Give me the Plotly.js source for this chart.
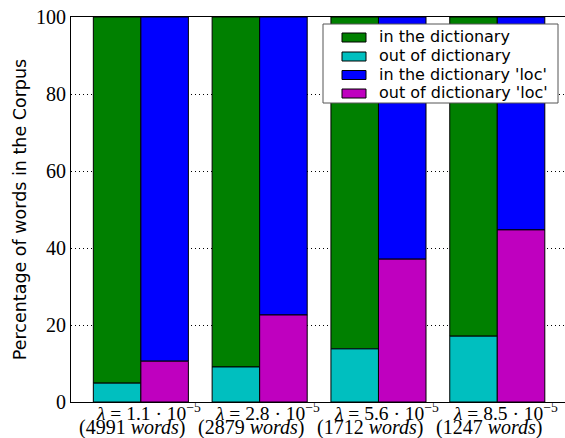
<!DOCTYPE html>
<html>
<head>
<meta charset="utf-8">
<script src="https://cdn.plot.ly/plotly-3.0.1.min.js"></script>
<style>html,body{margin:0;padding:0;background:#fff;}#chart{width:565px;height:438px;}</style>
</head>
<body>
<div id="chart"></div>
<script>
var groups = [0, 1, 2, 3];
var lambdaLabels = [
  "<i>λ</i> = 1.1 · 10<sup>−5</sup>",
  "<i>λ</i> = 2.8 · 10<sup>−5</sup>",
  "<i>λ</i> = 5.6 · 10<sup>−5</sup>",
  "<i>λ</i> = 8.5 · 10<sup>−5</sup>"
];
var wordCounts = ["4991", "2879", "1712", "1247"];
var seriesNames = ["in the dictionary", "out of dictionary", "in the dictionary 'loc'", "out of dictionary 'loc'"];
var seriesColors = ['#008000', '#00bfbf', '#0000ff', '#bf00bf'];
var outDict = [4.9, 9.1, 13.8, 17.1];
var inDict = [95.1, 90.9, 86.2, 82.9];
var outDictLoc = [10.6, 22.6, 37.1, 44.7];
var inDictLoc = [89.4, 77.4, 62.9, 55.3];

var edge = {color: '#000', width: 1};
var traces = [
  {type: 'bar', name: seriesNames[0], x: groups, y: inDict, base: outDict,
   offset: -0.4, width: 0.4, marker: {color: seriesColors[0], line: edge}},
  {type: 'bar', name: seriesNames[1], x: groups, y: outDict, base: 0,
   offset: -0.4, width: 0.4, marker: {color: seriesColors[1], line: edge}},
  {type: 'bar', name: seriesNames[2], x: groups, y: inDictLoc, base: outDictLoc,
   offset: 0, width: 0.4, marker: {color: seriesColors[2], line: edge}},
  {type: 'bar', name: seriesNames[3], x: groups, y: outDictLoc, base: 0,
   offset: 0, width: 0.4, marker: {color: seriesColors[3], line: edge}}
];

var serif = "'Liberation Serif', 'DejaVu Serif', serif";
var sans = "'DejaVu Sans', 'Liberation Sans', sans-serif";

// plot area geometry in px (for converting legend placement to paper coords)
var L = 71, W = 494, T = 17, H = 385;
function px(xp) { return (xp - L) / W; }
function py(yp) { return (T + H - yp) / H; }

var annotations = [];
groups.forEach(function (g, i) {
  annotations.push({xref: 'x', yref: 'paper', x: g, y: 0, xanchor: 'center', yanchor: 'middle',
    xshift: 8, yshift: -9.5, showarrow: false, text: lambdaLabels[i],
    font: {family: serif, size: 19.5, color: '#000'}});
  annotations.push({xref: 'x', yref: 'paper', x: g, y: 0, xanchor: 'center', yanchor: 'middle',
    xshift: -8, yshift: -25, showarrow: false, text: '(' + wordCounts[i] + ' <i>words</i>)',
    font: {family: serif, size: 20, color: '#000'}});
});

var shapes = [{type: 'rect', xref: 'paper', yref: 'paper', x0: px(323), x1: px(558), y0: py(103), y1: py(24),
  fillcolor: '#fff', line: {color: '#555', width: 1}, layer: 'above'}];
var rowY = [37.5, 56.5, 75, 93.5];
seriesNames.forEach(function (name, i) {
  shapes.push({type: 'rect', xref: 'paper', yref: 'paper', x0: px(342), x1: px(366),
    y0: py(rowY[i] + 4.5), y1: py(rowY[i] - 4.5), fillcolor: seriesColors[i],
    line: {color: '#000', width: 1}, layer: 'above'});
  annotations.push({xref: 'paper', yref: 'paper', x: px(377), y: py(rowY[i] - 1), xanchor: 'left', yanchor: 'middle',
    showarrow: false, text: name, font: {family: sans, size: 16, color: '#000'}});
});

var layout = {
  width: 565, height: 438,
  margin: {l: 71, r: 0, t: 17, b: 36, pad: 0},
  paper_bgcolor: '#fff', plot_bgcolor: '#fff',
  barmode: 'overlay',
  showlegend: false,
  hovermode: false,
  annotations: annotations,
  shapes: shapes,
  xaxis: {
    range: [-0.588, 3.57],
    tickmode: 'array', tickvals: groups, ticktext: ['', '', '', ''],
    showgrid: false, zeroline: false,
    showline: true, linecolor: '#000', linewidth: 1, mirror: true,
    ticks: ''
  },
  yaxis: {
    range: [0, 100],
    tickmode: 'array', tickvals: [0, 20, 40, 60, 80, 100],
    showgrid: true, gridcolor: '#000', griddash: '1px,3px', gridwidth: 1,
    zeroline: false,
    showline: true, linecolor: '#000', linewidth: 1, mirror: false,
    ticks: '',
    tickfont: {family: serif, size: 20, color: '#000'},
    title: {text: 'Percentage of words in the Corpus', standoff: 4,
      font: {family: sans, size: 17.5, color: '#000'}}
  }
};

Plotly.newPlot('chart', traces, layout, {displayModeBar: false, staticPlot: true});
</script>
</body>
</html>
